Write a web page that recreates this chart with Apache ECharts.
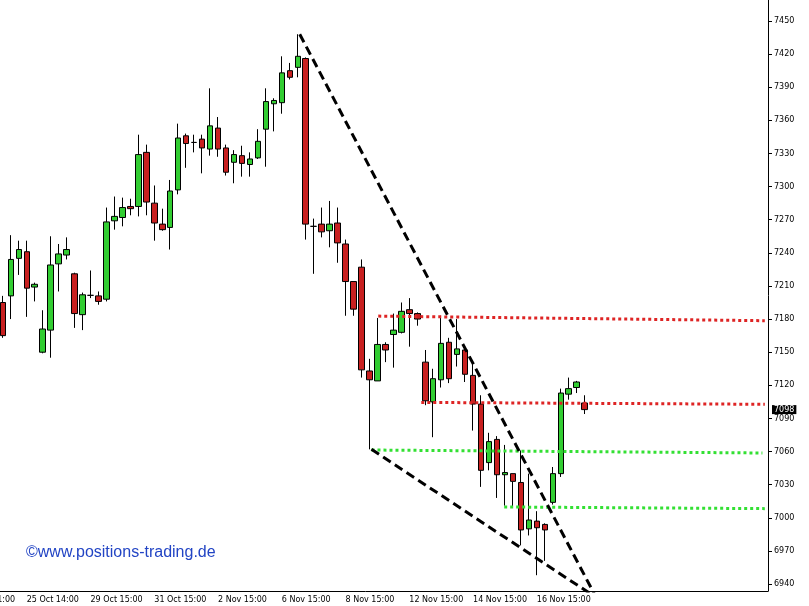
<!DOCTYPE html>
<html>
<head>
<meta charset="utf-8">
<script src="https://cdn.jsdelivr.net/npm/echarts@6/dist/echarts.min.js"></script>
<style>
html,body{margin:0;padding:0;background:#fff;overflow:hidden;width:809px;height:606px;}
#chart{width:849px;height:606px;margin-left:-40px;}
</style>
</head>
<body>
<div id="chart"></div>
<script>
// ---- data ----
var opens  = [7195,7201,7235,7241,7209,7150,7170,7230,7238,7221,7184,7201.5,7201,7198,7269,7272,7282,7282,7331,7285,7266,7263,7297,7346,7340,7343,7334,7353,7335,7322,7328,7320,7326,7352,7375,7376,7405,7408,7416,7264,7266,7260,7267,7248,7214,7227,7133,7124,7157,7166,7168,7188.5,7185,7141,7105,7125,7159,7148,7152,7129,7103,7050,7071,7039,7040,7032,6990,6997,6994,7014,7040,7112,7118,7104];
var closes = [7165,7234,7243,7208,7211.5,7171,7229,7239,7243,7185,7202,7201.5,7196,7268,7273,7281,7280,7329,7286,7267,7261,7296,7344,7339,7340,7335,7355,7334,7313,7329,7321,7325,7341,7377,7378,7403,7399,7418,7266,7264,7259,7266,7249,7214,7189,7134,7125,7157,7152,7170,7187,7185,7180,7106,7126,7158,7126,7153,7130,7103,7043,7069,7039,7041,7033,6989,6998,6991,6989,7040,7113,7117,7123,7098];
var lows   = [7163,7180,7220,7182,7196,7149,7145,7205,7234,7172,7170,7199,7193,7196,7261,7264,7274,7273,7274,7251,7260,7243,7293,7317,7331,7312,7328,7327,7310,7303,7309,7309,7325,7318,7350,7366,7397,7399,7252,7221,7254,7245,7231,7183,7183,7127,7062,7124,7141,7136,7167,7155,7174,7102,7073,7118,7122,7137,7123,7079,7028,7043,7018,7011,7009,6975,6984,6948,6961,7012,7037,7107,7113,7094];
var highs  = [7201,7256,7251,7251,7213,7188,7255,7248,7254,7222,7204,7224,7205,7281,7291,7290,7289,7347,7338,7301,7280,7306,7357,7348,7347,7347,7389,7363,7338,7333,7337,7331,7352,7389,7380,7418,7412,7438,7417,7271,7281,7287,7281,7252,7214,7234,7144,7181,7159,7185,7195,7199,7186,7152,7135,7183,7163,7180,7156,7141,7111,7077,7074,7066,7040,7061,7040,7006,6995,7046,7117,7127,7124,7111];

var leadSlots = 5;          // empty slots before the first candle
var totalSlots = 102;       // category slots on the time axis
var tickLabels = ['23 Oct 11:00','25 Oct 14:00','29 Oct 15:00','31 Oct 15:00','2 Nov 15:00','6 Nov 15:00','8 Nov 15:00','12 Nov 15:00','14 Nov 15:00','16 Nov 15:00'];
var labelEvery = 8;
var yTicks = [6940,6970,7000,7030,7060,7090,7120,7150,7180,7210,7240,7270,7300,7330,7360,7390,7420,7450];
var lastPrice = 7098;

// trend lines: [slot, price]
var upperWedge = [[42.25,7438],[79.5,6927]];
var lowerWedge = [[51.25,7062],[79.5,6927.5]];
var resist1 = [[52.1,7182.7],[100.6,7178.5]];
var resist2 = [[57.5,7104.5],[100.6,7102.8]];
var support1 = [[51.25,7061.4],[100.3,7058.7]];
var support2 = [[67.9,7009.8],[100.6,7008.3]];

// ---- build ----
var categories = [];
for (var k = 0; k < totalSlots; k++) {
  var li = k / labelEvery;
  categories.push((k % labelEvery === 0 && li < tickLabels.length) ? tickLabels[li] : '');
}
var candleData = [];
for (var k = 0; k < totalSlots; k++) {
  var i = k - leadSlots;
  if (i >= 0 && i < opens.length) candleData.push([opens[i], closes[i], lows[i], highs[i]]);
  else candleData.push('-');
}

var FONT = 'DejaVu Sans';
function trend(data, color, width, dash) {
  return {
    type: 'line', xAxisIndex: 1, yAxisIndex: 0, data: data,
    symbol: 'none', silent: true, clip: true,
    lineStyle: { color: color, width: width, type: dash }, z: 5
  };
}

var chart = echarts.init(document.getElementById('chart'), null, {renderer: 'canvas'});
chart.setOption({
  animation: false,
  backgroundColor: '#ffffff',
  title: {
    text: '©www.positions-trading.de',
    left: 61, top: 540,
    textStyle: { color: '#2244c4', fontSize: 16, fontWeight: 'normal', fontFamily: 'Liberation Sans' }
  },
  grid: { left: 0, right: 41, top: 0, bottom: 15, containLabel: false },
  xAxis: [{
    type: 'category', data: categories, boundaryGap: false,
    axisLine: { onZero: false, lineStyle: { color: '#000', width: 1 } },
    axisTick: { show: false },
    axisLabel: { interval: labelEvery - 1, align: 'left', color: '#000', fontSize: 8, fontFamily: FONT, margin: 5 },
    splitLine: { show: false }
  }, {
    type: 'value', min: 0, max: totalSlots - 1, show: false,
    axisLine: { onZero: false }
  }],
  yAxis: {
    type: 'value', position: 'right', min: 6933.7, max: 7469,
    axisLine: { show: true, onZero: false, lineStyle: { color: '#000', width: 1 } },
    axisTick: { show: true, length: 4, customValues: yTicks, lineStyle: { color: '#000' } },
    axisLabel: { customValues: yTicks, color: '#000', fontSize: 8, fontFamily: FONT, margin: 6,
      formatter: function (v) { return String(v); } },
    splitLine: { show: false }
  },
  series: [{
    type: 'candlestick',
    data: candleData,
    barWidth: 6,
    itemStyle: {
      color: '#32cd32', color0: '#c82020',
      borderColor: '#000', borderColor0: '#000', borderColorDoji: '#000',
      borderWidth: 1
    },
    z: 3,
    markLine: {
      silent: true, symbol: 'none',
      lineStyle: { color: 'rgba(0,0,0,0)', width: 1 },
      label: {
        show: true, position: 'end', distance: 4,
        formatter: String(lastPrice),
        backgroundColor: '#000', color: '#fff', padding: [1, 2, 0, 2],
        fontSize: 8, fontFamily: FONT
      },
      data: [{ yAxis: lastPrice }]
    }
  },
  trend(resist1, '#de2424', 3, [3, 3]),
  trend(resist2, '#de2424', 3, [3, 3]),
  trend(support1, '#33e033', 3, [3, 3]),
  trend(support2, '#33e033', 3, [3, 3]),
  trend(upperWedge, '#000', 3, [9, 5]),
  trend(lowerWedge, '#000', 3, [9, 5])
  ]
});
</script>
</body>
</html>
